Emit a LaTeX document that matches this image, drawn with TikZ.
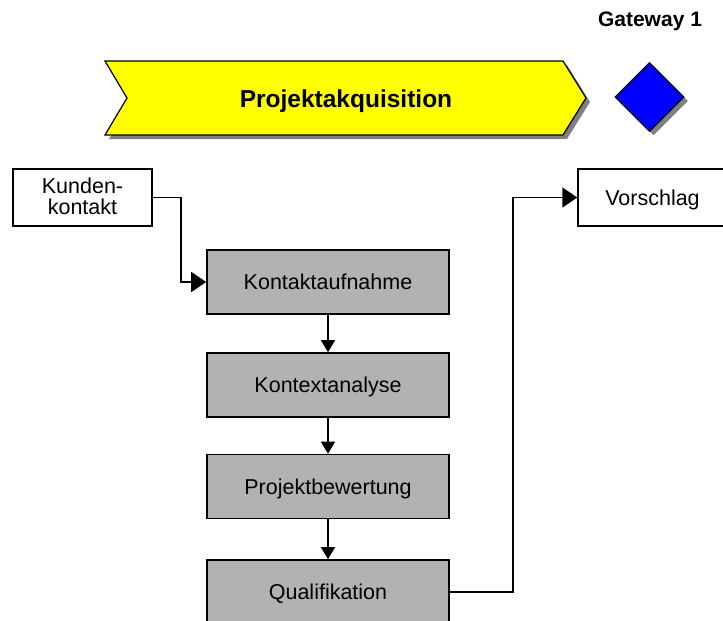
\documentclass[tikz,border=0pt]{standalone}
\usepackage{fontspec}
\setmainfont{Liberation Sans}
\usetikzlibrary{arrows.meta,shapes.geometric,shadows}
\definecolor{phaseyellow}{RGB}{255,255,0}
\definecolor{gateblue}{RGB}{0,0,255}
\definecolor{taskgray}{RGB}{178,178,178}
\begin{document}
\begin{tikzpicture}[x=1pt,y=-1pt,
  every node/.style={font=\fontsize{21.5}{21}\selectfont, inner sep=0pt},
  taskbox/.style={draw, line width=1.6pt, fill=taskgray, minimum width=242pt,
    minimum height=64pt, text height=15.5pt, text depth=0pt},
  docbox/.style={draw, line width=1.4pt, fill=white, minimum height=57pt, align=center},
  flow/.style={line width=1.6pt, -{Triangle[length=12pt,width=14pt]}},
  sideflow/.style={line width=1.6pt, -{Triangle[length=15pt,width=20pt]}},
  softshadow/.style={drop shadow={shadow xshift=4pt, shadow yshift=-4pt,
    fill=black!50, opacity=1}},
]
\useasboundingbox (0,0) rectangle (723,621);

% phase banner and gateway
\filldraw[fill=phaseyellow, line width=1.2pt, softshadow]
  (105,61) -- (563,61) -- (586,98) -- (563,135) -- (105,135) -- (127,98) -- cycle;
\node[font=\bfseries\fontsize{24.5}{24.5}\selectfont, anchor=base] (phase) at (346,107) {Projektakquisition};
\node[diamond, draw, line width=1.2pt, fill=gateblue, minimum width=69pt,
  minimum height=69pt, softshadow] (gate) at (649.5,97) {};
\node[font=\bfseries\fontsize{21}{21}\selectfont, anchor=base] (gatelabel) at (650,27) {Gateway 1};

% input and output documents
\node[docbox, minimum width=139pt, text height=36.5pt, text depth=2.5pt] (kunde) at (82.5,197.5) {Kunden-\\kontakt};
\node[docbox, minimum width=149pt, text height=15.5pt, text depth=0pt] (vorschlag) at (652.5,197.5) {Vorschlag};

% process steps
\node[taskbox] (kontakt) at (328,282) {Kontaktaufnahme};
\node[taskbox] (kontext) at (328,385) {Kontextanalyse};
\node[taskbox] (bewertung) at (328,486.5) {Projektbewertung};
\node[taskbox] (quali) at (328,592) {Qualifikation};

% connectors
\draw[sideflow] (kunde.east) -- ++(28,0) |- (kontakt.west);
\draw[flow] (kontakt.south) -- (kontext.north);
\draw[flow] (kontext.south) -- (bewertung.north);
\draw[flow] (bewertung.south) -- (quali.north);
\draw[sideflow] (quali.east) -- ++(63,0) |- (vorschlag.west);
\end{tikzpicture}
\end{document}
